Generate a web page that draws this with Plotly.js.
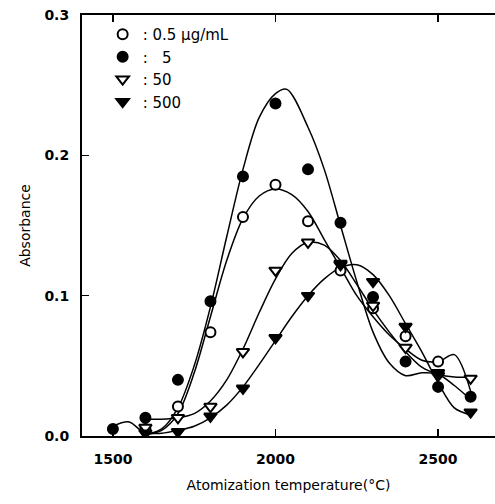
<!DOCTYPE html>
<html><head><meta charset="utf-8">
<script src="https://cdn.plot.ly/plotly-3.0.1.min.js"></script>
<style>body{margin:0;background:#fff}#c{width:495px;height:504px}</style>
</head><body><div id="c"></div>
<script>
// measured points
const temps = [1500,1600,1700,1800,1900,2000,2100,2200,2300,2400,2500,2600];
const c05  = [null,0.005,0.021,0.074,0.156,0.179,0.153,0.118,0.091,0.071,0.053,null];
const c5   = [0.005,0.013,0.040,0.096,0.185,0.237,0.190,0.152,0.099,0.053,0.035,0.028];
const c50  = [null,0.006,0.013,0.021,0.060,0.118,0.138,0.122,0.093,0.063,0.043,0.041];
const c500 = [null,0.002,0.003,0.014,0.034,0.070,0.100,0.123,0.110,0.078,0.045,0.017];
// fitted curves
const fitT5 = [1500,1550,1600,1650,1700,1750,1800,1850,1900,1950,2000,2035,2100,2150,2200,2250,2300,2350,2400,2450,2500,2550,2600];
const fit5  = [0.007,0.010,0.002,0.005,0.020,0.050,0.092,0.142,0.190,0.227,0.244,0.247,0.220,0.190,0.150,0.110,0.074,0.052,0.043,0.045,0.044,0.036,0.026];
const fitT05 = [1600,1650,1700,1750,1800,1850,1900,1950,2000,2050,2100,2150,2200,2250,2300,2350,2400,2450,2500,2550,2600];
const fit05  = [0.001,0.004,0.016,0.045,0.085,0.125,0.155,0.171,0.176,0.172,0.160,0.140,0.120,0.100,0.085,0.072,0.062,0.054,0.053,0.058,0.032];
const fitT50 = [1600,1650,1700,1750,1800,1850,1900,1950,2000,2050,2100,2150,2200,2250,2300,2350,2400,2450,2500,2550,2600];
const fit50  = [0.012,0.012,0.013,0.016,0.025,0.040,0.062,0.088,0.112,0.130,0.138,0.136,0.125,0.108,0.090,0.074,0.060,0.049,0.044,0.042,0.042];
const fitT500 = [1600,1650,1700,1750,1800,1850,1900,1950,2000,2050,2100,2150,2200,2250,2300,2350,2400,2450,2500,2550,2600];
const fit500  = [0.002,0.002,0.004,0.007,0.013,0.022,0.035,0.051,0.068,0.085,0.100,0.112,0.120,0.122,0.115,0.100,0.080,0.060,0.038,0.020,0.015];
const names = [': 0.5 μg/mL', ':   5', ': 50', ': 500'];
const yTicks = [0, 0.1, 0.2, 0.3];
const yTickText = ['0.0','0.1','0.2','0.3'];
const xTicks = [1500, 2000, 2500];

const lineStyle = {color:'#000', width:1.5, shape:'spline', smoothing:0.9};
const curve = (x,y) => ({x:x, y:y, mode:'lines', line:lineStyle, showlegend:false, hoverinfo:'skip'});
const pts = (y, sym, fill, name) => ({x:temps, y:y, mode:'markers', name:name,
  marker:{symbol:sym, size:(sym.indexOf('triangle')>=0?11:10), color:fill, line:{color:'#000', width:2}}});

const data = [
  curve(fitT5, fit5), curve(fitT05, fit05), curve(fitT50, fit50), curve(fitT500, fit500),
  pts(c05, 'circle', '#fff', names[0]),
  pts(c5, 'circle', '#000', names[1]),
  pts(c50, 'triangle-down', '#fff', names[2]),
  pts(c500, 'triangle-down', '#000', names[3])
];

const dj = 'DejaVu Sans, Verdana, sans-serif';
const layout = {
  width:495, height:504,
  margin:{l:82, r:0, t:15, b:68},
  paper_bgcolor:'#fff', plot_bgcolor:'#fff',
  showlegend:true,
  legend:{x:0.05, y:0.993, xanchor:'left', yanchor:'top', bgcolor:'rgba(0,0,0,0)',
    font:{family:dj, size:15, color:'#000'}, tracegroupgap:0, itemwidth:30},
  xaxis:{range:[1405,2675], tickvals:xTicks, ticks:'inside', ticklen:7, tickwidth:1.5, tickcolor:'#000',
    showline:true, linecolor:'#000', linewidth:2, mirror:'allticks', showgrid:false, zeroline:false,
    tickfont:{family:dj, size:14, color:'#000', weight:'bold'}, ticklabelstandoff:9,
    title:{text:'Atomization temperature(°C)', font:{family:dj, size:14, color:'#000'}, standoff:14}},
  yaxis:{range:[0,0.3], tickvals:yTicks, ticktext:yTickText, ticks:'inside', ticklen:7, tickwidth:1.5, tickcolor:'#000',
    showline:true, linecolor:'#000', linewidth:2, mirror:false, showgrid:false, zeroline:false,
    tickfont:{family:dj, size:14, color:'#000', weight:'bold'}, ticklabelstandoff:8,
    title:{text:'Absorbance', font:{family:dj, size:14, color:'#000'}, standoff:10}}
};
Plotly.newPlot('c', data, layout, {staticPlot:true});
</script></body></html>
